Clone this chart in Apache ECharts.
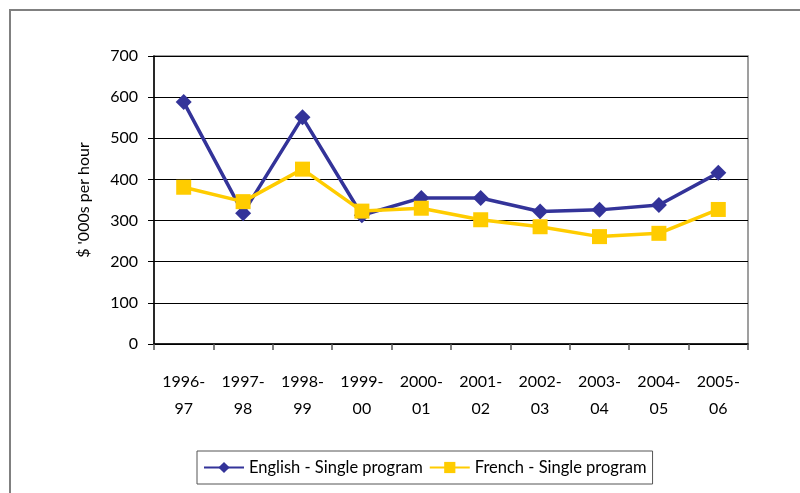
<!DOCTYPE html>
<html>
<head>
<meta charset="utf-8">
<script src="https://cdn.jsdelivr.net/npm/echarts@6/dist/echarts.min.js"></script>
<style>html,body{margin:0;padding:0;background:#fff}#c{width:800px;height:493px}</style>
</head>
<body>
<div id="c"></div>
<script>
const categories = ['1996-\n97','1997-\n98','1998-\n99','1999-\n00','2000-\n01','2001-\n02','2002-\n03','2003-\n04','2004-\n05','2005-\n06'];
const english = [588, 318, 551, 313, 355, 355, 322, 326, 338, 416];
const french = [381, 346, 425, 323, 330, 302, 285, 261, 269, 327];
const yTicks = {min: 0, max: 700, interval: 100};
const FONT = 'Lato, "DejaVu Sans", sans-serif';

const chart = echarts.init(document.getElementById('c'), null, {renderer: 'canvas'});
chart.setOption({
  animation: false,
  backgroundColor: '#fff',
  textStyle: {fontFamily: FONT},
  graphic: [{
    type: 'rect', shape: {x: 10, y: 10, width: 800, height: 500},
    style: {fill: 'none', stroke: '#808080', lineWidth: 2}, z: -1
  }],
  grid: {left: 154, top: 56, right: 52, bottom: 149, show: true, borderColor: '#808080', borderWidth: 1.5, backgroundColor: 'transparent'},
  legend: {
    left: 197, top: 451, width: 470,
    itemWidth: 40, itemHeight: 14, itemGap: 6,
    padding: [8, 6, 8, 6],
    borderColor: '#555', borderWidth: 1,
    textStyle: {fontFamily: FONT, fontSize: 16.5, color: '#000'},
    data: ['English - Single program', 'French - Single program']
  },
  xAxis: {
    type: 'category', data: categories, boundaryGap: true,
    axisLine: {lineStyle: {color: '#000', width: 1.5}},
    axisTick: {show: true, length: 6, lineStyle: {color: '#555', width: 1.5}},
    axisLabel: {color: '#000', fontSize: 16, fontFamily: FONT, lineHeight: 27, margin: 24, interval: 0}
  },
  yAxis: {
    type: 'value', min: yTicks.min, max: yTicks.max, interval: yTicks.interval,
    name: "$ '000s per hour", nameLocation: 'middle', nameGap: 62, nameRotate: 90,
    nameTextStyle: {color: '#000', fontSize: 16, fontFamily: FONT},
    axisLine: {show: true, lineStyle: {color: '#000', width: 1.5}},
    axisTick: {show: true, length: 6, lineStyle: {color: '#000', width: 1}},
    axisLabel: {color: '#000', fontSize: 16, fontFamily: FONT, margin: 16},
    splitLine: {show: true, lineStyle: {color: '#000', width: 1}}
  },
  series: [{
    name: 'English - Single program', type: 'line', data: english,
    symbol: 'diamond', symbolSize: 16,
    lineStyle: {color: '#333399', width: 3.5},
    itemStyle: {color: '#333399'}, z: 2
  }, {
    name: 'French - Single program', type: 'line', data: french,
    symbol: 'rect', symbolSize: 15,
    lineStyle: {color: '#FFCC00', width: 3.5},
    itemStyle: {color: '#FFCC00'}, z: 3
  }]
});
</script>
</body>
</html>
